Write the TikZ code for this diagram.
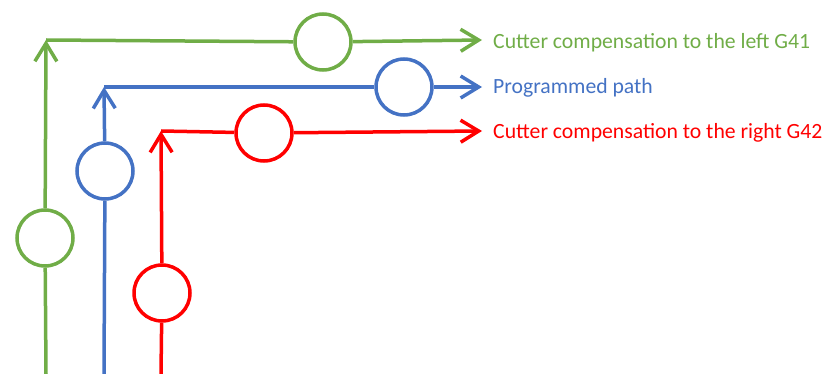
\documentclass[tikz,border=0pt]{standalone}
\usepackage{fontspec}
\setmainfont{Carlito}
\usetikzlibrary{arrows.meta}
\definecolor{cgreen}{HTML}{70AD47}
\definecolor{cblue}{HTML}{4472C4}
\definecolor{cred}{HTML}{FF0000}
\begin{document}
\begin{tikzpicture}[x=1pt,y=-1pt,
  path/.style={line width=3.5pt},
  tip/.style={-{Straight Barb[length=18pt,width=22pt,line width=0pt 1]}},
  cutter/.style={circle,draw=#1,fill=white,line width=3.5pt,minimum size=56pt,inner sep=0pt},
  lbl/.style={anchor=west,inner sep=0pt,font=\fontsize{21.7}{26}\selectfont}]
\useasboundingbox (0,0) rectangle (826,374);
% green: tool left of the path (G41)
\coordinate (g0) at (46,374);
\coordinate (g1) at (46,40);
\coordinate (g2) at (482,40);
\node[cutter=cgreen] (gv) at (45,238) {};
\node[cutter=cgreen] (gh) at (323,42) {};
\draw[path,cgreen] (g0) -- (gv);
\draw[path,cgreen,tip] (gv) -- (g1);
\draw[path,cgreen] (g1) -- (gh);
\draw[path,cgreen,tip] (gh) -- (g2);
\node[lbl,text=cgreen] (gl) at (493,43) {Cutter compensation to the left G41};
% blue: programmed path
\coordinate (b0) at (104,374);
\coordinate (b1) at (104,87);
\coordinate (b2) at (482,87);
\node[cutter=cblue] (bv) at (105,171) {};
\node[cutter=cblue] (bh) at (404,87) {};
\draw[path,cblue] (b0) -- (bv);
\draw[path,cblue,tip] (bv) -- (b1);
\draw[path,cblue] (b1) -- (bh);
\draw[path,cblue,tip] (bh) -- (b2);
\node[lbl,text=cblue] (bl) at (493,88) {Programmed path};
% red: tool right of the path (G42)
\coordinate (r0) at (161,374);
\coordinate (r1) at (161,131);
\coordinate (r2) at (482,131);
\node[cutter=cred] (rv) at (162,293) {};
\node[cutter=cred] (rh) at (264,133) {};
\draw[path,cred] (r0) -- (rv);
\draw[path,cred,tip] (rv) -- (r1);
\draw[path,cred] (r1) -- (rh);
\draw[path,cred,tip] (rh) -- (r2);
\node[lbl,text=cred] (rl) at (493,133) {Cutter compensation to the right G42};
\end{tikzpicture}
\end{document}
